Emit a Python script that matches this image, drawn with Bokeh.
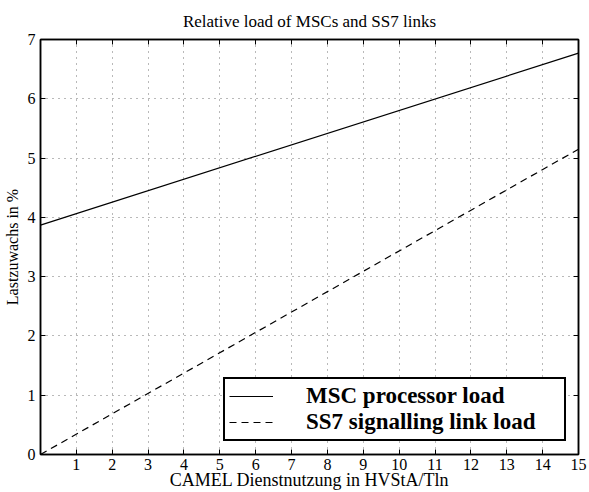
from bokeh.plotting import figure
from bokeh.models import (Range1d, LinearAxis, FixedTicker, Legend, LegendItem)
from bokeh.embed import file_html
from bokeh.resources import INLINE

# data
x_vals = [0, 15]
msc_load = [3.87, 6.77]
ss7_load = [0.0, 5.15]
x_ticks = list(range(1, 16))
y_ticks = list(range(0, 8))

FONT = "serif"

p = figure(width=589, height=492, output_backend="svg", toolbar_location=None,
           x_range=Range1d(0, 15), y_range=Range1d(0, 7),
           min_border_left=38, min_border_right=11, min_border_top=38, min_border_bottom=35,
           x_axis_location=None, y_axis_location=None)

p.title.text = "Relative load of MSCs and SS7 links"
p.title.align = "center"
p.title.text_font = FONT
p.title.text_font_size = "17px"
p.title.text_font_style = "normal"
p.title.text_color = "black"
p.title.offset = 0
p.title.standoff = 18


def make_axis(ticks, labels=True):
    ax = LinearAxis(ticker=FixedTicker(ticks=ticks))
    ax.axis_line_color = "black"
    ax.axis_line_width = 1.5
    ax.major_tick_in = 5
    ax.major_tick_out = 0
    ax.major_tick_line_color = "black"
    ax.minor_tick_line_color = None
    ax.major_label_text_font = FONT
    ax.major_label_text_font_style = "normal"
    ax.major_label_text_color = "black"
    if labels:
        ax.major_label_text_font_size = "16px"
        ax.major_label_standoff = 4
    else:
        ax.major_label_text_font_size = "1px"
        ax.major_label_standoff = 0
        ax.major_label_overrides = {t: "" for t in ticks}
    return ax


xb = make_axis(x_ticks)
xb.axis_label = "CAMEL Dienstnutzung in HVStA/Tln"
xb.axis_label_text_font = FONT
xb.axis_label_text_font_size = "18px"
xb.axis_label_text_font_style = "normal"
xb.axis_label_text_color = "black"
xb.axis_label_standoff = -3
yl = make_axis(y_ticks)
yl.major_label_standoff = 5
yl.axis_label = "Lastzuwachs in %"
yl.axis_label_text_font = FONT
yl.axis_label_text_font_size = "16px"
yl.axis_label_text_font_style = "normal"
yl.axis_label_text_color = "black"
yl.axis_label_standoff = 4
xt = make_axis(x_ticks, labels=False)
yr = make_axis(y_ticks, labels=False)

p.add_layout(xb, "below")
p.add_layout(yl, "left")
p.add_layout(xt, "above")
p.add_layout(yr, "right")

p.xgrid.ticker = FixedTicker(ticks=x_ticks)
p.ygrid.ticker = FixedTicker(ticks=y_ticks)
for g in (p.xgrid, p.ygrid):
    g.grid_line_color = "black"
    g.grid_line_alpha = 0.55
    g.grid_line_dash = "1 5"
    g.grid_line_width = 1

p.outline_line_color = "black"
p.outline_line_width = 1.5
p.outline_line_alpha = 1
p.background_fill_color = "white"
p.border_fill_color = "white"

r1 = p.line(x_vals, msc_load, line_color="black", line_width=1.2)
r2 = p.line(x_vals, ss7_load, line_color="black", line_width=1.2, line_dash="7 5")

legend = Legend(items=[LegendItem(label="MSC processor load", renderers=[r1]),
                       LegendItem(label="SS7 signalling link load", renderers=[r2])],
                location=(183, 13))
legend.label_text_font = FONT
legend.label_text_font_size = "23px"
legend.label_text_font_style = "bold"
legend.label_text_color = "black"
legend.label_height = 20
legend.glyph_height = 20
legend.glyph_width = 44
legend.label_width = 254
legend.label_standoff = 33
legend.spacing = 0
legend.padding = 4
legend.margin = 0
legend.border_line_color = "black"
legend.border_line_width = 2
legend.border_line_alpha = 1
legend.background_fill_color = "white"
legend.background_fill_alpha = 1
p.add_layout(legend, "center")

open("out.html", "w").write(file_html(p, INLINE))
